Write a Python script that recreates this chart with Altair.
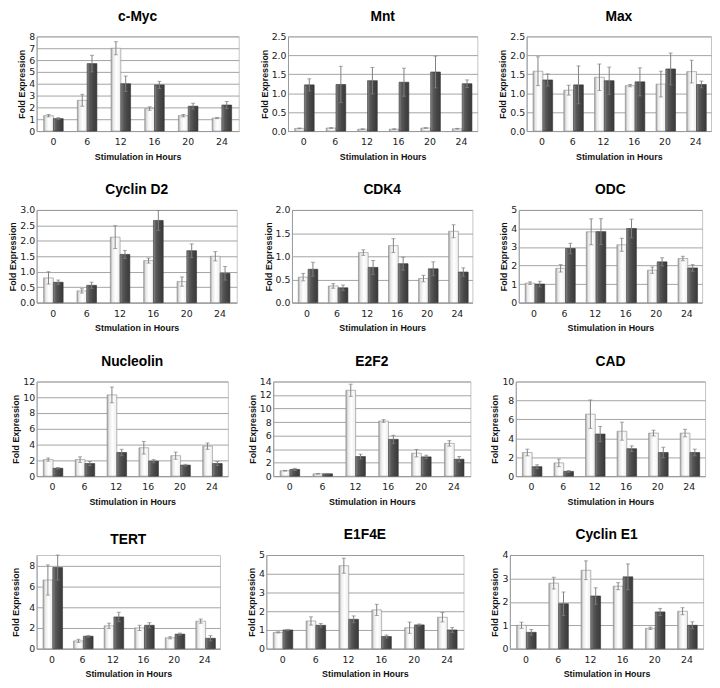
import altair as alt
import pandas as pd

HOURS = ["0", "6", "12", "16", "20", "24"]
SERIES = ["first", "second"]

# ---- values (light bar / dark bar, with error sizes)
cmyc_light = [1.3, 2.6, 7.0, 1.9, 1.3, 1.1]
cmyc_light_err = [0.1, 0.5, 0.55, 0.15, 0.1, 0.05]
cmyc_dark = [1.05, 5.7, 4.0, 3.9, 2.1, 2.2]
cmyc_dark_err = [0.08, 0.7, 0.65, 0.3, 0.25, 0.3]

mnt_light = [0.07, 0.08, 0.05, 0.05, 0.08, 0.06]
mnt_light_err = [0.01, 0.01, 0.01, 0.01, 0.01, 0.01]
mnt_dark = [1.22, 1.23, 1.33, 1.29, 1.56, 1.25]
mnt_dark_err = [0.16, 0.48, 0.35, 0.37, 0.42, 0.1]

max_light = [1.58, 1.08, 1.42, 1.2, 1.24, 1.57]
max_light_err = [0.38, 0.13, 0.35, 0.03, 0.34, 0.3]
max_dark = [1.35, 1.22, 1.33, 1.3, 1.64, 1.23]
max_dark_err = [0.16, 0.5, 0.36, 0.37, 0.42, 0.09]

ccnd2_light = [0.8, 0.38, 2.12, 1.36, 0.68, 1.5]
ccnd2_light_err = [0.2, 0.07, 0.37, 0.08, 0.15, 0.15]
ccnd2_dark = [0.66, 0.56, 1.56, 2.66, 1.68, 0.95]
ccnd2_dark_err = [0.07, 0.1, 0.13, 0.32, 0.22, 0.22]

cdk4_light = [0.55, 0.36, 1.08, 1.23, 0.52, 1.54]
cdk4_light_err = [0.08, 0.05, 0.06, 0.15, 0.07, 0.14]
cdk4_dark = [0.72, 0.32, 0.76, 0.84, 0.73, 0.66]
cdk4_dark_err = [0.15, 0.06, 0.15, 0.14, 0.15, 0.09]

odc_light = [1.05, 1.85, 3.82, 3.12, 1.75, 2.38]
odc_light_err = [0.07, 0.2, 0.7, 0.35, 0.17, 0.12]
odc_dark = [1.0, 2.92, 3.83, 4.0, 2.2, 1.87]
odc_dark_err = [0.15, 0.28, 0.7, 0.5, 0.22, 0.18]

ncl_light = [2.1, 2.1, 10.3, 3.6, 2.6, 3.8]
ncl_light_err = [0.2, 0.35, 1.0, 0.8, 0.45, 0.4]
ncl_dark = [1.0, 1.6, 3.0, 1.9, 1.4, 1.6]
ncl_dark_err = [0.1, 0.25, 0.4, 0.2, 0.1, 0.25]

e2f2_light = [0.8, 0.35, 12.7, 8.15, 3.4, 4.85]
e2f2_light_err = [0.05, 0.05, 0.9, 0.2, 0.55, 0.4]
e2f2_dark = [1.0, 0.35, 2.9, 5.45, 2.85, 2.5]
e2f2_dark_err = [0.15, 0.03, 0.35, 0.6, 0.25, 0.4]

cad_light = [2.5, 1.4, 6.55, 4.75, 4.55, 4.55]
cad_light_err = [0.35, 0.4, 1.5, 0.95, 0.3, 0.4]
cad_dark = [1.0, 0.5, 4.45, 2.9, 2.5, 2.5]
cad_dark_err = [0.2, 0.1, 0.8, 0.3, 0.55, 0.35]

tert_light = [6.6, 0.75, 2.2, 2.0, 1.05, 2.65]
tert_light_err = [1.45, 0.15, 0.25, 0.25, 0.1, 0.2]
tert_dark = [7.8, 1.2, 3.05, 2.25, 1.4, 1.0]
tert_dark_err = [1.2, 0.08, 0.45, 0.25, 0.1, 0.25]

e1f4e_light = [0.87, 1.48, 4.43, 2.07, 1.12, 1.68]
e1f4e_light_err = [0.03, 0.22, 0.4, 0.3, 0.3, 0.25]
e1f4e_dark = [1.0, 1.25, 1.57, 0.65, 1.27, 1.0]
e1f4e_dark_err = [0.03, 0.1, 0.18, 0.08, 0.05, 0.13]

ccne1_light = [1.0, 2.8, 3.35, 2.67, 0.87, 1.6]
ccne1_light_err = [0.13, 0.25, 0.4, 0.15, 0.05, 0.15]
ccne1_dark = [0.7, 1.92, 2.25, 3.07, 1.57, 1.0]
ccne1_dark_err = [0.12, 0.5, 0.35, 0.55, 0.15, 0.15]

TITLES = ["c-Myc", "Mnt", "Max", "Cyclin D2", "CDK4", "ODC",
          "Nucleolin", "E2F2", "CAD", "TERT", "E1F4E", "Cyclin E1"]
Y_MAX = [8, 2.5, 2.5, 3.0, 2.0, 5, 12, 14, 10, 9, 5, 4]
Y_STEP = [1, 0.5, 0.5, 0.5, 0.5, 1, 2, 2, 2, 2, 1, 1]
Y_FMT = ["d", ".1f", ".1f", ".1f", ".1f", "d", "d", "d", "d", "d", "d", "d"]
X_TITLES = ["Stimulation in Hours"] * 12
X_TITLES[3] = "Stmulation in Hours"

DATA = [
    (cmyc_light, cmyc_light_err, cmyc_dark, cmyc_dark_err),
    (mnt_light, mnt_light_err, mnt_dark, mnt_dark_err),
    (max_light, max_light_err, max_dark, max_dark_err),
    (ccnd2_light, ccnd2_light_err, ccnd2_dark, ccnd2_dark_err),
    (cdk4_light, cdk4_light_err, cdk4_dark, cdk4_dark_err),
    (odc_light, odc_light_err, odc_dark, odc_dark_err),
    (ncl_light, ncl_light_err, ncl_dark, ncl_dark_err),
    (e2f2_light, e2f2_light_err, e2f2_dark, e2f2_dark_err),
    (cad_light, cad_light_err, cad_dark, cad_dark_err),
    (tert_light, tert_light_err, tert_dark, tert_dark_err),
    (e1f4e_light, e1f4e_light_err, e1f4e_dark, e1f4e_dark_err),
    (ccne1_light, ccne1_light_err, ccne1_dark, ccne1_dark_err),
]

# ---- layout (plot-area sizes per panel, gap per row, y-title gap per panel)
WIDTHS = [205, 192, 187, 203, 183, 186, 194, 200, 192, 186, 200, 196]
HEIGHTS = [96, 96, 96, 94, 94, 94, 96, 96, 96, 95, 95, 95]
ROW_GAP = [20, 26, 19, 26]
Y_TITLE_PAD = [2, 2, 2, 2, 2, 2, 2, 2, 2, 8, 2, 2]

LIGHT_GRAD = alt.Gradient(
    gradient="linear", x1=0, x2=1, y1=0, y2=0,
    stops=[alt.GradientStop(color="#9e9e9e", offset=0),
           alt.GradientStop(color="#e8e8e8", offset=0.22),
           alt.GradientStop(color="#ffffff", offset=0.55),
           alt.GradientStop(color="#ececec", offset=1)])
DARK_GRAD = alt.Gradient(
    gradient="linear", x1=0, x2=1, y1=0, y2=0,
    stops=[alt.GradientStop(color="#8a8a8a", offset=0),
           alt.GradientStop(color="#5a5a5a", offset=0.25),
           alt.GradientStop(color="#474747", offset=0.6),
           alt.GradientStop(color="#3a3a3a", offset=1)])


def panel(i):
    light, lerr, dark, derr = DATA[i]
    rows = []
    for k, hr in enumerate(HOURS):
        for s, v, e in (("first", light[k], lerr[k]), ("second", dark[k], derr[k])):
            rows.append({"hour": hr, "series": s, "value": v,
                         "lo": max(v - e, 0), "hi": v + e})
    df = pd.DataFrame(rows)
    ymax, step = Y_MAX[i], Y_STEP[i]
    n = int(round(ymax / step + 1e-9))
    tick_vals = [round(j * step, 2) for j in range(n + 1) if j * step <= ymax + 1e-9]

    x = alt.X("hour:N", sort=HOURS,
              scale=alt.Scale(paddingInner=0.42, paddingOuter=0.21),
              axis=alt.Axis(title=X_TITLES[i], labelAngle=0, ticks=False))
    xo = alt.XOffset("series:N", sort=SERIES,
                     scale=alt.Scale(domain=SERIES, paddingInner=0, paddingOuter=0))
    yscale = alt.Scale(domain=[0, ymax], nice=False, zero=True)
    yaxis = alt.Axis(title="Fold Expression", values=tick_vals, format=Y_FMT[i],
                     titlePadding=Y_TITLE_PAD[i])

    base = alt.Chart(df)
    light_bars = base.transform_filter(alt.datum.series == "first").mark_bar(
        color=LIGHT_GRAD, stroke="#8c8c8c", strokeWidth=0.6
    ).encode(x=x, xOffset=xo, y=alt.Y("value:Q", scale=yscale, axis=yaxis))
    dark_bars = base.transform_filter(alt.datum.series == "second").mark_bar(
        color=DARK_GRAD, stroke="#333333", strokeWidth=0.6
    ).encode(x=x, xOffset=xo, y=alt.Y("value:Q", scale=yscale, axis=yaxis))
    err = base.mark_rule(color="#808080", strokeWidth=1).encode(
        x=x, xOffset=xo, y=alt.Y("lo:Q", scale=yscale, axis=yaxis), y2="hi:Q")
    cap_hi = base.mark_tick(color="#808080", size=4, thickness=1, orient="horizontal").encode(
        x=x, xOffset=xo, y=alt.Y("hi:Q", scale=yscale, axis=yaxis))
    cap_lo = base.mark_tick(color="#808080", size=4, thickness=1, orient="horizontal").encode(
        x=x, xOffset=xo, y=alt.Y("lo:Q", scale=yscale, axis=yaxis))

    return alt.layer(light_bars, dark_bars, err, cap_hi, cap_lo).properties(
        width=WIDTHS[i], height=HEIGHTS[i],
        title=TITLES[i])


rows = [alt.hconcat(*[panel(r * 3 + c) for c in range(3)], spacing=ROW_GAP[r])
        for r in range(4)]

chart = alt.vconcat(*rows, spacing=21).properties(
    padding={"left": 0, "top": -4, "right": 0, "bottom": 0}
).configure_view(
    stroke="#c4c4c4", strokeWidth=1
).configure_axis(
    gridColor="#8c8c8c", gridWidth=0.8, domainColor="#9a9a9a",
    labelFont="DejaVu Sans", labelFontSize=9.5, labelColor="#222222",
    titleFont="Liberation Sans", titleFontSize=9, titleFontWeight="bold",
    titleColor="#111111"
).configure_axisX(
    labelPadding=6, titlePadding=6, grid=False
).configure_axisY(
    labelPadding=2, ticks=False, labelFlush=False
).configure_title(
    font="Liberation Sans", fontSize=14, fontWeight="bold", offset=8,
    color="#000000", anchor="middle"
)

chart.save("out.html", embed_options={"renderer": "svg", "actions": False})
